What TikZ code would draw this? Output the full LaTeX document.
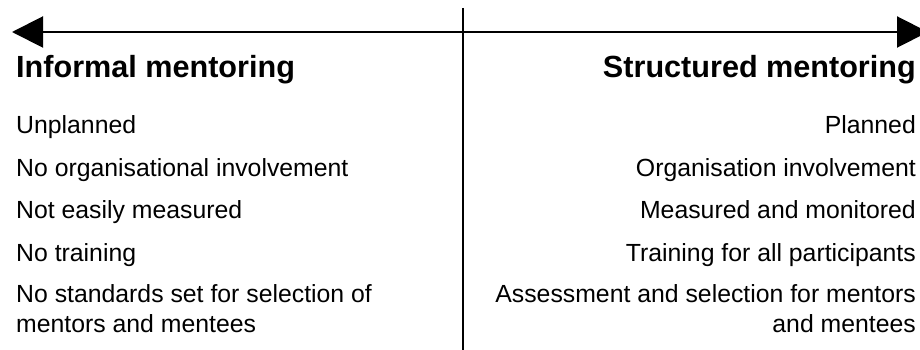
\documentclass[tikz,border=0pt]{standalone}
\usepackage{fontspec}
\setmainfont{Liberation Sans}
\usetikzlibrary{arrows.meta}
\begin{document}
\begin{tikzpicture}[x=1pt,y=1pt,
  heading/.style={inner sep=0pt,font=\fontsize{30.6}{36}\selectfont\bfseries},
  item/.style={inner sep=0pt,font=\fontsize{24.8}{30}\selectfont},
  axis/.style={line width=2pt,{Triangle[length=31pt,width=31pt]}-{Triangle[length=31pt,width=31pt]}},
  divider/.style={line width=1.6pt}]
\useasboundingbox (0,0) rectangle (920,-350);
\clip (0,0) rectangle (920,-350);
\coordinate (L) at (12,-32);
\coordinate (R) at (928,-32);
\coordinate (T) at (463,-8);
\coordinate (B) at (463,-352);
\draw[divider] (T) -- (B);
\draw[axis] (L) -- (R);
\node[heading,anchor=base west] (h1) at (16,-78) {Informal mentoring};
\node[heading,anchor=base east] (h2) at (916,-78) {Structured mentoring};
\node[item,anchor=base west] (l1) at (16,-133) {Unplanned};
\node[item,anchor=base west] (l2) at (16,-176) {No organisational involvement};
\node[item,anchor=base west] (l3) at (16,-218) {Not easily measured};
\node[item,anchor=base west] (l4) at (16,-261) {No training};
\node[item,anchor=base west] (l5) at (16,-302) {No standards set for selection of};
\node[item,anchor=base west] (l6) at (16,-332) {mentors and mentees};
\node[item,anchor=base east] (r1) at (916,-133) {Planned};
\node[item,anchor=base east] (r2) at (916,-176) {Organisation involvement};
\node[item,anchor=base east] (r3) at (916,-218) {Measured and monitored};
\node[item,anchor=base east] (r4) at (916,-261) {Training for all participants};
\node[item,anchor=base east] (r5) at (916,-302) {Assessment and selection for mentors};
\node[item,anchor=base east] (r6) at (916,-332) {and mentees};
\end{tikzpicture}
\end{document}
